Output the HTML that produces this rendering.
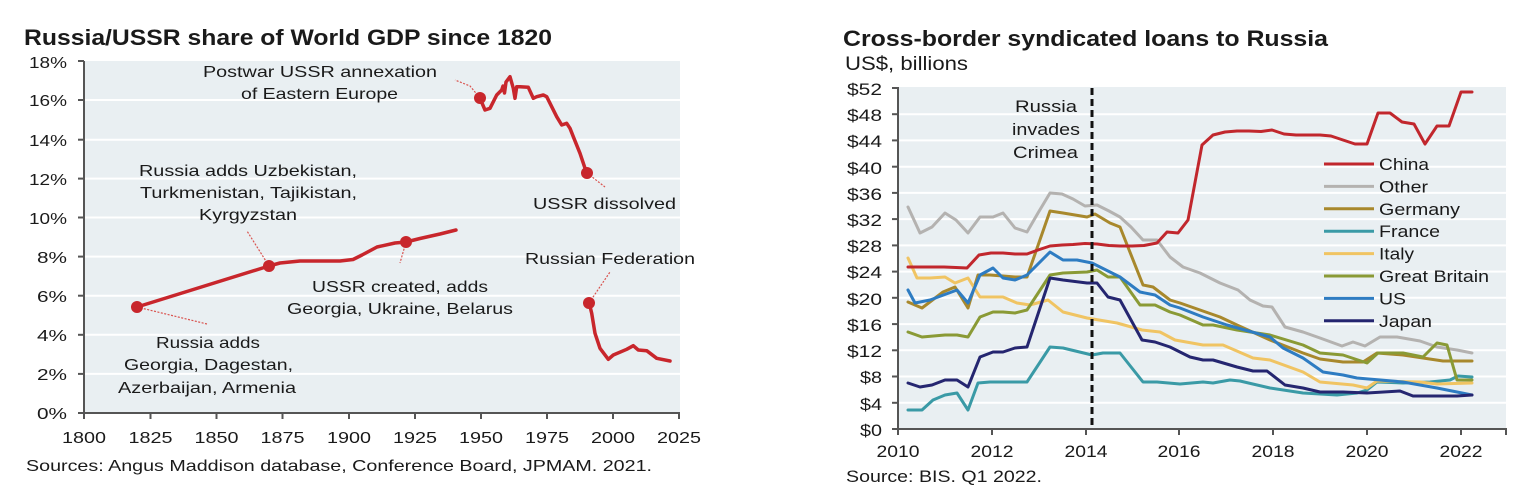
<!DOCTYPE html>
<html><head><meta charset="utf-8"><style>
html,body{margin:0;padding:0;background:#fff;}
svg{display:block;}
text{font-family:"Liberation Sans",Arial,sans-serif;fill:#1a1a1a;}
</style></head><body>
<svg width="1524" height="504" viewBox="0 0 1524 504" xmlns="http://www.w3.org/2000/svg">
<rect x="0" y="0" width="1524" height="504" fill="#fff"/>

<!-- ============ LEFT CHART ============ -->
<text x="24" y="45" font-size="22" font-weight="bold" textLength="528" lengthAdjust="spacingAndGlyphs">Russia/USSR share of World GDP since 1820</text>
<rect x="85" y="61" width="595" height="352" fill="#e9eff2"/>
<g stroke="#fff" stroke-width="2">
<line x1="85" y1="100" x2="680" y2="100"/>
<line x1="85" y1="139.7" x2="680" y2="139.7"/>
<line x1="85" y1="178.6" x2="680" y2="178.6"/>
<line x1="85" y1="217.5" x2="680" y2="217.5"/>
<line x1="85" y1="256.6" x2="680" y2="256.6"/>
<line x1="85" y1="295.7" x2="680" y2="295.7"/>
<line x1="85" y1="334.8" x2="680" y2="334.8"/>
<line x1="85" y1="373.9" x2="680" y2="373.9"/>
</g>
<g stroke="#555" stroke-width="2" fill="none">
<line x1="84" y1="61" x2="84" y2="414"/>
<line x1="83" y1="413" x2="680" y2="413"/>
<line x1="78" y1="61" x2="84" y2="61"/>
<line x1="78" y1="100" x2="84" y2="100"/>
<line x1="78" y1="139.7" x2="84" y2="139.7"/>
<line x1="78" y1="178.6" x2="84" y2="178.6"/>
<line x1="78" y1="217.5" x2="84" y2="217.5"/>
<line x1="78" y1="256.6" x2="84" y2="256.6"/>
<line x1="78" y1="295.7" x2="84" y2="295.7"/>
<line x1="78" y1="334.8" x2="84" y2="334.8"/>
<line x1="78" y1="373.9" x2="84" y2="373.9"/>
<line x1="78" y1="413" x2="84" y2="413"/>
<line x1="84" y1="413" x2="84" y2="419"/>
<line x1="150.5" y1="413" x2="150.5" y2="419"/>
<line x1="216.5" y1="413" x2="216.5" y2="419"/>
<line x1="282.5" y1="413" x2="282.5" y2="419"/>
<line x1="349" y1="413" x2="349" y2="419"/>
<line x1="415" y1="413" x2="415" y2="419"/>
<line x1="481" y1="413" x2="481" y2="419"/>
<line x1="547" y1="413" x2="547" y2="419"/>
<line x1="613" y1="413" x2="613" y2="419"/>
<line x1="679" y1="413" x2="679" y2="419"/>
</g>
<g font-size="16" text-anchor="end">
<text x="67" y="68" textLength="38" lengthAdjust="spacingAndGlyphs">18%</text>
<text x="67" y="106" textLength="38" lengthAdjust="spacingAndGlyphs">16%</text>
<text x="67" y="146" textLength="38" lengthAdjust="spacingAndGlyphs">14%</text>
<text x="67" y="185" textLength="38" lengthAdjust="spacingAndGlyphs">12%</text>
<text x="67" y="224" textLength="38" lengthAdjust="spacingAndGlyphs">10%</text>
<text x="67" y="263" textLength="30" lengthAdjust="spacingAndGlyphs">8%</text>
<text x="67" y="302" textLength="30" lengthAdjust="spacingAndGlyphs">6%</text>
<text x="67" y="341" textLength="30" lengthAdjust="spacingAndGlyphs">4%</text>
<text x="67" y="380" textLength="30" lengthAdjust="spacingAndGlyphs">2%</text>
<text x="67" y="419" textLength="30" lengthAdjust="spacingAndGlyphs">0%</text>
</g>
<g font-size="16">
<text x="62" y="443" textLength="44" lengthAdjust="spacingAndGlyphs">1800</text>
<text x="128.5" y="443" textLength="44" lengthAdjust="spacingAndGlyphs">1825</text>
<text x="194.5" y="443" textLength="44" lengthAdjust="spacingAndGlyphs">1850</text>
<text x="260.5" y="443" textLength="44" lengthAdjust="spacingAndGlyphs">1875</text>
<text x="327" y="443" textLength="44" lengthAdjust="spacingAndGlyphs">1900</text>
<text x="393" y="443" textLength="44" lengthAdjust="spacingAndGlyphs">1925</text>
<text x="459" y="443" textLength="44" lengthAdjust="spacingAndGlyphs">1950</text>
<text x="525" y="443" textLength="44" lengthAdjust="spacingAndGlyphs">1975</text>
<text x="591" y="443" textLength="44" lengthAdjust="spacingAndGlyphs">2000</text>
<text x="657" y="443" textLength="44" lengthAdjust="spacingAndGlyphs">2025</text>
<text x="26" y="471" textLength="626" lengthAdjust="spacingAndGlyphs">Sources: Angus Maddison database, Conference Board, JPMAM. 2021.</text>
</g>

<!-- leaders -->
<g stroke="#d9534f" stroke-width="1.2" stroke-dasharray="2,1.5" fill="none">
<polyline points="480,98 470,86 455,80"/>
<polyline points="587,173 605,187"/>
<polyline points="589,303 610,272"/>
<polyline points="269,266 247,231"/>
<polyline points="137,307 207,324"/>
<polyline points="406,242 400,263"/>
</g>
<!-- series -->
<g stroke="#c8262c" stroke-width="3.5" fill="none" stroke-linejoin="round" stroke-linecap="round">
<polyline points="137,307 269,266 280,263 300,261 320,261 340,261 353,259.5 362,255 377,247 395,243 406,242 420,238.5 440,234 456,230"/>
<polyline points="480,98.3 485,110 490,108.3 496.7,95 501.7,90 503,86 504.5,93 506,82 510,76.7 513.3,88.3 515,98.3 516.7,86.7 520,86.7 528.3,87.3 533.3,98.3 536.7,96.7 543.3,95 546.7,96.7 551.7,106.7 556.7,116.7 561.7,125 566.7,123.3 570,128.3 573.3,136.7 580,153.3 586.7,173.3"/>
<polyline points="589.3,303.3 591.7,313.3 595,333.3 600,348.3 608.3,359.3 613.3,355 626.7,349.3 633.3,345.7 638.3,350 646.7,350.7 656.7,358.3 670,361"/>
</g>
<g fill="#c8262c">
<circle cx="137" cy="307" r="6"/>
<circle cx="269" cy="266" r="6"/>
<circle cx="406" cy="242" r="6"/>
<circle cx="480" cy="98" r="6"/>
<circle cx="587" cy="173" r="6"/>
<circle cx="589" cy="303" r="6"/>
</g>
<g font-size="16">
<text x="203" y="77" textLength="234" lengthAdjust="spacingAndGlyphs">Postwar USSR annexation</text>
<text x="241" y="99" textLength="157" lengthAdjust="spacingAndGlyphs">of Eastern Europe</text>
<text x="139" y="176" textLength="218" lengthAdjust="spacingAndGlyphs">Russia adds Uzbekistan,</text>
<text x="140" y="198" textLength="217" lengthAdjust="spacingAndGlyphs">Turkmenistan, Tajikistan,</text>
<text x="199" y="220" textLength="98" lengthAdjust="spacingAndGlyphs">Kyrgyzstan</text>
<text x="533" y="209" textLength="143" lengthAdjust="spacingAndGlyphs">USSR dissolved</text>
<text x="525" y="264" textLength="170" lengthAdjust="spacingAndGlyphs">Russian Federation</text>
<text x="312" y="292" textLength="176" lengthAdjust="spacingAndGlyphs">USSR created, adds</text>
<text x="287" y="314" textLength="226" lengthAdjust="spacingAndGlyphs">Georgia, Ukraine, Belarus</text>
<text x="156" y="348" textLength="104" lengthAdjust="spacingAndGlyphs">Russia adds</text>
<text x="124" y="370" textLength="169" lengthAdjust="spacingAndGlyphs">Georgia, Dagestan,</text>
<text x="118" y="393" textLength="178" lengthAdjust="spacingAndGlyphs">Azerbaijan, Armenia</text>
</g>

<!-- ============ RIGHT CHART ============ -->
<text x="843" y="46" font-size="22" font-weight="bold" textLength="485" lengthAdjust="spacingAndGlyphs">Cross-border syndicated loans to Russia</text>
<text x="845" y="70" font-size="19" textLength="123" lengthAdjust="spacingAndGlyphs">US$, billions</text>
<rect x="899" y="87" width="607" height="342" fill="#e9eff2"/>
<g stroke="#fff" stroke-width="2">
<line x1="899" y1="114.2" x2="1506" y2="114.2"/>
<line x1="899" y1="140.4" x2="1506" y2="140.4"/>
<line x1="899" y1="166.7" x2="1506" y2="166.7"/>
<line x1="899" y1="192.9" x2="1506" y2="192.9"/>
<line x1="899" y1="219.1" x2="1506" y2="219.1"/>
<line x1="899" y1="245.4" x2="1506" y2="245.4"/>
<line x1="899" y1="271.6" x2="1506" y2="271.6"/>
<line x1="899" y1="297.8" x2="1506" y2="297.8"/>
<line x1="899" y1="324.1" x2="1506" y2="324.1"/>
<line x1="899" y1="350.3" x2="1506" y2="350.3"/>
<line x1="899" y1="376.5" x2="1506" y2="376.5"/>
<line x1="899" y1="402.8" x2="1506" y2="402.8"/>
</g>
<g stroke="#555" stroke-width="2" fill="none">
<line x1="898" y1="87" x2="898" y2="430"/>
<line x1="897" y1="429" x2="1507" y2="429"/>
<line x1="892" y1="88" x2="898" y2="88"/>
<line x1="892" y1="114.2" x2="898" y2="114.2"/>
<line x1="892" y1="140.4" x2="898" y2="140.4"/>
<line x1="892" y1="166.7" x2="898" y2="166.7"/>
<line x1="892" y1="192.9" x2="898" y2="192.9"/>
<line x1="892" y1="219.1" x2="898" y2="219.1"/>
<line x1="892" y1="245.4" x2="898" y2="245.4"/>
<line x1="892" y1="271.6" x2="898" y2="271.6"/>
<line x1="892" y1="297.8" x2="898" y2="297.8"/>
<line x1="892" y1="324.1" x2="898" y2="324.1"/>
<line x1="892" y1="350.3" x2="898" y2="350.3"/>
<line x1="892" y1="376.5" x2="898" y2="376.5"/>
<line x1="892" y1="402.8" x2="898" y2="402.8"/>
<line x1="892" y1="429" x2="898" y2="429"/>
<line x1="898" y1="429" x2="898" y2="435"/>
<line x1="992" y1="429" x2="992" y2="435"/>
<line x1="1086" y1="429" x2="1086" y2="435"/>
<line x1="1179" y1="429" x2="1179" y2="435"/>
<line x1="1273" y1="429" x2="1273" y2="435"/>
<line x1="1367" y1="429" x2="1367" y2="435"/>
<line x1="1461" y1="429" x2="1461" y2="435"/>
<line x1="1506" y1="429" x2="1506" y2="435"/>
</g>
<g font-size="17" text-anchor="end" fill="#222">
<text x="882" y="95" textLength="35" lengthAdjust="spacingAndGlyphs">$52</text>
<text x="882" y="121" textLength="35" lengthAdjust="spacingAndGlyphs">$48</text>
<text x="882" y="147" textLength="35" lengthAdjust="spacingAndGlyphs">$44</text>
<text x="882" y="174" textLength="35" lengthAdjust="spacingAndGlyphs">$40</text>
<text x="882" y="200" textLength="35" lengthAdjust="spacingAndGlyphs">$36</text>
<text x="882" y="226" textLength="35" lengthAdjust="spacingAndGlyphs">$32</text>
<text x="882" y="252" textLength="35" lengthAdjust="spacingAndGlyphs">$28</text>
<text x="882" y="278" textLength="35" lengthAdjust="spacingAndGlyphs">$24</text>
<text x="882" y="305" textLength="35" lengthAdjust="spacingAndGlyphs">$20</text>
<text x="882" y="331" textLength="35" lengthAdjust="spacingAndGlyphs">$16</text>
<text x="882" y="357" textLength="35" lengthAdjust="spacingAndGlyphs">$12</text>
<text x="882" y="383" textLength="22" lengthAdjust="spacingAndGlyphs">$8</text>
<text x="882" y="410" textLength="22" lengthAdjust="spacingAndGlyphs">$4</text>
<text x="882" y="436" textLength="22" lengthAdjust="spacingAndGlyphs">$0</text>
</g>
<g font-size="17">
<text x="876.5" y="457" textLength="43" lengthAdjust="spacingAndGlyphs">2010</text>
<text x="970.5" y="457" textLength="43" lengthAdjust="spacingAndGlyphs">2012</text>
<text x="1064.5" y="457" textLength="43" lengthAdjust="spacingAndGlyphs">2014</text>
<text x="1157.5" y="457" textLength="43" lengthAdjust="spacingAndGlyphs">2016</text>
<text x="1251.5" y="457" textLength="43" lengthAdjust="spacingAndGlyphs">2018</text>
<text x="1345.5" y="457" textLength="43" lengthAdjust="spacingAndGlyphs">2020</text>
<text x="1439.5" y="457" textLength="43" lengthAdjust="spacingAndGlyphs">2022</text>
<text x="846" y="482" textLength="196" lengthAdjust="spacingAndGlyphs">Source: BIS. Q1 2022.</text>
</g>
<g font-size="17" fill="#222">
<text x="1015" y="112" textLength="62" lengthAdjust="spacingAndGlyphs">Russia</text>
<text x="1012" y="135" textLength="68" lengthAdjust="spacingAndGlyphs">invades</text>
<text x="1013" y="158" textLength="65" lengthAdjust="spacingAndGlyphs">Crimea</text>
</g>

<!-- series -->
<g fill="none" stroke-width="3" stroke-linejoin="round" stroke-linecap="round">
<polyline stroke="#b4b2b0" points="908,207 920,233 932,227 945,213 956,220 968,233 980,217 993,217 1003,213 1015,228 1027,232 1038,213 1050,193 1062,194 1073,199 1085,206 1097,205 1109,211 1120,217 1131,227 1143,240 1157,240 1170,257 1183,267 1200,273 1220,283 1238,290 1250,300 1263,306 1272,307 1285,327 1303,332 1320,338 1342,346 1353,342 1365,346 1380,337 1397,337 1420,341 1437,347 1457,350 1472,353"/>
<polyline stroke="#a8882c" points="908,302 922,308 943,292 955,287 968,308 978,275 990,275 1003,276 1015,277 1027,277 1050,211 1063,213 1087,217 1095,214 1110,223 1120,227 1143,285 1153,287 1170,300 1180,303 1200,310 1220,317 1237,325 1270,340 1303,353 1320,359 1343,362 1363,362 1377,353 1403,355 1423,358 1443,361 1472,361"/>
<polyline stroke="#3a9aa6" points="908,410 922,410 933,400 945,395 957,393 968,410 978,383 990,382 1027,382 1050,347 1063,348 1092,355 1103,353 1120,353 1143,382 1157,382 1180,384 1203,382 1213,383 1230,380 1240,381 1270,388 1303,393 1337,395 1357,393 1367,390 1377,382 1403,383 1430,382 1450,380 1458,376 1472,377"/>
<polyline stroke="#f0c463" points="908,258 917,278 930,278 945,277 955,283 968,278 980,297 1003,297 1017,303 1030,305 1048,300 1063,312 1087,318 1117,323 1142,330 1160,332 1175,340 1203,345 1223,345 1253,358 1270,360 1303,372 1320,382 1353,385 1367,388 1377,381 1420,382 1437,384 1472,383"/>
<polyline stroke="#8a9a35" points="908,332 922,337 945,335 957,335 968,337 980,317 993,312 1003,312 1015,313 1027,310 1050,275 1063,273 1087,272 1097,270 1108,277 1120,277 1140,305 1155,305 1170,312 1180,315 1203,325 1213,325 1237,330 1270,335 1303,345 1320,353 1343,355 1367,363 1378,353 1403,353 1423,357 1437,343 1447,345 1457,380 1472,380"/>
<polyline stroke="#2e7cc2" points="908,290 915,303 930,300 957,290 968,303 980,275 993,268 1003,278 1015,280 1027,275 1050,252 1063,260 1077,260 1092,263 1120,277 1140,292 1155,295 1170,305 1180,308 1203,317 1227,325 1270,337 1283,348 1303,358 1323,372 1343,375 1357,378 1403,382 1437,388 1472,395"/>
<polyline stroke="#252670" points="908,383 920,387 932,385 945,380 957,380 968,387 980,357 993,352 1003,352 1015,348 1027,347 1050,278 1063,280 1087,283 1097,283 1108,297 1120,300 1142,340 1155,342 1170,347 1190,357 1203,360 1213,360 1237,367 1253,371 1267,371 1285,385 1303,388 1320,392 1343,392 1367,393 1400,391 1413,396 1457,396 1472,395"/>
<polyline stroke="#c1272d" points="908,267 920,267 932,267 944,267 956,267.5 967,268 979,255 991,253 1003,253 1015,254 1027,254 1038,250 1050,246 1062,245 1073,244.5 1085,243.5 1097,244 1109,245.5 1120,246 1132,246 1144,245.5 1157,243 1167,232 1178,233 1188,220 1202,145 1213,135 1225,132 1237,131 1249,131 1261,131.5 1272,130 1284,134 1296,135 1308,135 1320,135 1331,136 1343,140 1355,144 1367,144 1378,113 1390,113 1402,122 1414,124 1425,144 1437,126 1449,126 1461,92 1472,92"/>
</g>
<!-- dashed Crimea line -->
<line x1="1092" y1="88" x2="1092" y2="429" stroke="#111" stroke-width="3" stroke-dasharray="7,4"/>

<!-- legend -->
<g stroke-width="3">
<line x1="1324" y1="164" x2="1374" y2="164" stroke="#c1272d"/>
<line x1="1324" y1="186.4" x2="1374" y2="186.4" stroke="#b4b2b0"/>
<line x1="1324" y1="208.8" x2="1374" y2="208.8" stroke="#a8882c"/>
<line x1="1324" y1="231.2" x2="1374" y2="231.2" stroke="#3a9aa6"/>
<line x1="1324" y1="253.6" x2="1374" y2="253.6" stroke="#f0c463"/>
<line x1="1324" y1="276" x2="1374" y2="276" stroke="#8a9a35"/>
<line x1="1324" y1="298.4" x2="1374" y2="298.4" stroke="#2e7cc2"/>
<line x1="1324" y1="320.8" x2="1374" y2="320.8" stroke="#252670"/>
</g>
<g font-size="17" fill="#222">
<text x="1379" y="170" textLength="50" lengthAdjust="spacingAndGlyphs">China</text>
<text x="1379" y="192.4" textLength="49" lengthAdjust="spacingAndGlyphs">Other</text>
<text x="1379" y="214.8" textLength="81" lengthAdjust="spacingAndGlyphs">Germany</text>
<text x="1379" y="237.2" textLength="61" lengthAdjust="spacingAndGlyphs">France</text>
<text x="1379" y="259.6" textLength="35" lengthAdjust="spacingAndGlyphs">Italy</text>
<text x="1379" y="282" textLength="110" lengthAdjust="spacingAndGlyphs">Great Britain</text>
<text x="1379" y="304.4" textLength="27" lengthAdjust="spacingAndGlyphs">US</text>
<text x="1379" y="326.8" textLength="53" lengthAdjust="spacingAndGlyphs">Japan</text>
</g>
</svg>
</body></html>
